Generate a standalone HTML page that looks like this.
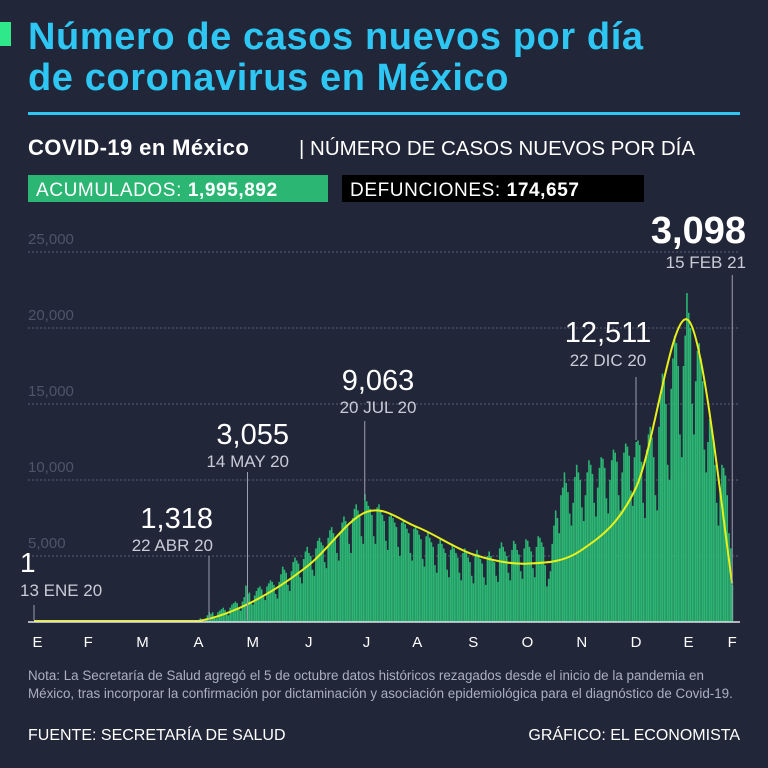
<!DOCTYPE html>
<html><head><meta charset="utf-8"><style>
body{margin:0;width:768px;height:768px;background:#222639;overflow:hidden;font-family:"Liberation Sans",sans-serif;}
svg{display:block}
</style></head><body>
<svg width="768" height="768" id="svg">
<rect x="0" y="0" width="768" height="768" fill="#222639"/>
<rect x="0" y="22" width="11" height="24" fill="#2ee88a"/>
<text x="28" y="49" font-size="38" letter-spacing="0.6" font-weight="bold" fill="#2ec6f2">Número de casos nuevos por día</text>
<text x="28" y="90" font-size="38" letter-spacing="0.6" font-weight="bold" fill="#2ec6f2">de coronavirus en México</text>
<rect x="28" y="112" width="712" height="3" fill="#2ec6f2"/>
<text x="28" y="155" font-size="22" letter-spacing="0.4" font-weight="bold" fill="#fff">COVID-19 en México</text>
<text x="299" y="155" font-size="20.5" fill="#fff">| NÚMERO DE CASOS NUEVOS POR DÍA</text>
<rect x="28" y="175" width="300" height="27" fill="#2bb673"/>
<text x="36" y="196" font-size="19" letter-spacing="0.6" fill="#fff">ACUMULADOS: <tspan font-weight="bold">1,995,892</tspan></text>
<rect x="342" y="175" width="302" height="27" fill="#000"/>
<text x="350" y="196" font-size="19" letter-spacing="0.6" fill="#fff">DEFUNCIONES: <tspan font-weight="bold">174,657</tspan></text>
<g id="grid"></g><g id="bars"></g><g id="trend"></g><g id="ann"></g><g id="xax"></g>
<text x="28" y="680" font-size="13.4" fill="#aab0bf">Nota: La Secretaría de Salud agregó el 5 de octubre datos históricos rezagados desde el inicio de la pandemia en</text>
<text x="28" y="698" font-size="13.4" fill="#aab0bf">México, tras incorporar la confirmación por dictaminación y asociación epidemiológica para el diagnóstico de Covid-19.</text>
<text x="28" y="740" font-size="16" fill="#fff">FUENTE: SECRETARÍA DE SALUD</text>
<text x="740" y="740" font-size="16" fill="#fff" text-anchor="end">GRÁFICO: EL ECONOMISTA</text>
</svg>
<script>
const yTicks=[5000,10000,15000,20000,25000];
const yTickLabels=["5,000","10,000","15,000","20,000","25,000"];
const monthLabels=["E","F","M","A","M","J","J","A","S","O","N","D","E","F"];
const monthDays=[2,31,62,94,125,157,190,219,251,282,313,344,374,399];
const dailyCases=[1,0,0,0,0,0,0, 0,0,0,0,0,0,0, 0,0,0,0,0,0,0, 0,0,0,0,0,0,0, 0,0,0,0,0,0,0, 0,0,0,0,0,0,0, 0,0,0,0,0,0,0,
0,0,0,0,0,1,2, 3,4,5,7,10,14,18, 25,30,40,45,50,55,60, 70,90,110,130,150,170,160, 200,250,300,280,320,350,300,
350,400,450,500,550,450,400, 500,600,700,800,900,750,650, 900,1100,1318,1200,1300,1000,900, 1300,1400,1500,1600,1450,1200,1100,
1600,1800,1900,2000,1900,1500,1400, 2000,2300,3055,2500,2600,2000,1800, 2400,2700,2900,3000,2800,2300,2100, 3000,3200,3400,3300,3100,2500,2200,
3300,3800,4300,4100,3900,3100,2700, 4000,4600,4900,4700,4500,3600,3200, 4800,5300,5600,5200,5000,4100,3700, 5500,6000,6200,5900,5700,4600,4200,
6200,6700,6900,6500,6200,5200,4700, 6600,7200,7600,7300,7000,5800,5200, 7500,8100,8400,8000,7600,6300,5800, 9063,8600,8300,8100,7700,6300,5800,
8200,8400,8000,7700,7300,6000,5400, 7600,7800,7500,7200,6900,5600,5000, 7200,7400,7100,6800,6500,5200,4700, 6800,7000,6700,6400,6100,4800,4300,
6300,6600,6200,5900,5600,4400,3900, 5800,6100,5800,5500,5200,4100,3600, 5400,5800,5500,5200,4900,3900,3400, 5200,5500,5200,4900,4600,3700,3200,
5100,5400,5100,4800,4500,3600,3100, 5000,5300,5000,4800,4600,3700,3300, 5500,5900,5600,5300,5000,3900,3400, 5400,6000,5800,5400,5100,4000,3500,
5500,6100,6000,5600,5300,4200,3600, 5600,6300,6200,5900,5600,4400,3000, 3500,4000,5800,7000,8000,7500,6500, 9000,9500,10500,9800,9200,7800,7000,
8500,10200,11000,10500,10000,8200,7300, 9000,10500,11300,11000,10400,8500,7600, 9500,10800,11500,11400,10800,8800,7800, 10000,11300,12000,11800,11200,9000,8000,
10500,11800,12400,12200,11600,9300,8300, 11500,12511,12600,12300,11200,8500,7500, 12000,13000,13500,12800,11500,9000,8000, 13500,15500,17000,16500,15000,11000,10000,
16000,18000,19500,19000,17500,13000,11500, 17500,19500,22300,21000,20000,15000,13000, 16500,18500,19000,18000,16500,12000,10500, 12500,14000,13500,12500,11000,8500,7000,
9500,11000,10800,10300,9000,6500,5500, 3098];
const trendDays=[0,60,94,125,157,190,219,251,282,313,344,374,399];
const trendValues=[0,0,450,2000,4400,7900,6900,5100,4500,5400,9500,20500,3200];
const annotations=[
 {day:0,value:"1",date:"13 ENE 20",tx:20,ty:572,dy:596,top:605,bot:620,anchor:"start",size:28},
 {day:100,value:"1,318",date:"22 ABR 20",tx:213,ty:528,dy:551,top:556,bot:620,anchor:"end",size:29},
 {day:122,value:"3,055",date:"14 MAY 20",tx:289,ty:444,dy:467,top:472,bot:620,anchor:"end",size:29},
 {day:189,value:"9,063",date:"20 JUL 20",tx:378,ty:390,dy:413,top:421,bot:500,anchor:"middle",size:29},
 {day:344,value:"12,511",date:"22 DIC 20",tx:608,ty:342,dy:366,top:377,bot:440,anchor:"middle",size:29},
 {day:399,value:"3,098",date:"15 FEB 21",tx:746,ty:243,dy:268,top:275,bot:620,anchor:"end",size:38}
];
const NS="http://www.w3.org/2000/svg";
const X0=34,DX=1.75,BASE=622;
function xs(d){return X0+d*DX;}
function ys(v){return 632-v*0.0152;}
function mk(t,a,p){const e=document.createElementNS(NS,t);for(const k in a)e.setAttribute(k,a[k]);document.getElementById(p).appendChild(e);return e;}
yTicks.forEach((v,i)=>{
 const l=mk('line',{x1:28,x2:740,y1:ys(v),y2:ys(v),stroke:'#5a5f72','stroke-width':1,'stroke-dasharray':'2,2'},'grid');
 
 
 const t=mk('text',{x:28,y:ys(v)-8,'font-size':15,fill:'#4f5568'},'grid');
 t.textContent=yTickLabels[i];
 
 
});
dailyCases.forEach((v,i)=>{
 const y=Math.min(ys(v),BASE);
 const r=mk('rect',{x:xs(i)-0.6,y:y,width:1.6,height:BASE-y,fill:'#2bb673'},'bars');
 
 
});
const P=trendDays.map((dd,i)=>[xs(dd),Math.min(ys(trendValues[i]),BASE-1)]);
let d='M'+P[0][0]+','+P[0][1];
for(let i=1;i<P.length;i++){
 const p0=P[Math.max(i-2,0)],p1=P[i-1],p2=P[i],p3=P[Math.min(i+1,P.length-1)];
 const c1x=p1[0]+(p2[0]-p0[0])/6,c1y=Math.min(p1[1]+(p2[1]-p0[1])/6,BASE-1);
 const c2x=p2[0]-(p3[0]-p1[0])/6,c2y=Math.min(p2[1]-(p3[1]-p1[1])/6,BASE-1);
 d+=' C'+c1x+','+c1y+' '+c2x+','+c2y+' '+p2[0]+','+p2[1];
}
const tl=mk('path',{d:d,fill:'none',stroke:'#e8f01a','stroke-width':2},'trend');


const ax=mk('line',{x1:28,x2:740,y1:BASE,y2:BASE,stroke:'#dfe3ea','stroke-width':1.5},'xax');


monthLabels.forEach((m,i)=>{
 const t=mk('text',{x:xs(monthDays[i]),y:647,'font-size':15,fill:'#fff','text-anchor':'middle'},'xax');
 t.textContent=m;
 
 
});
annotations.forEach(a=>{
 const x=xs(a.day);
 const l=mk('line',{x1:x,x2:x,y1:a.top,y2:a.bot,stroke:'#9aa0ad','stroke-width':1},'ann');
 
 
 const v=mk('text',{x:a.tx,y:a.ty,'font-size':a.size,fill:'#fff','text-anchor':a.anchor,'font-weight':a.size>30?'bold':'normal'},'ann');
 v.textContent=a.value;
 
 
 const t=mk('text',{x:a.tx,y:a.dy,'font-size':17,fill:'#c8ccd6','text-anchor':a.anchor},'ann');
 t.textContent=a.date;
 
 
});
</script>
</body></html>
